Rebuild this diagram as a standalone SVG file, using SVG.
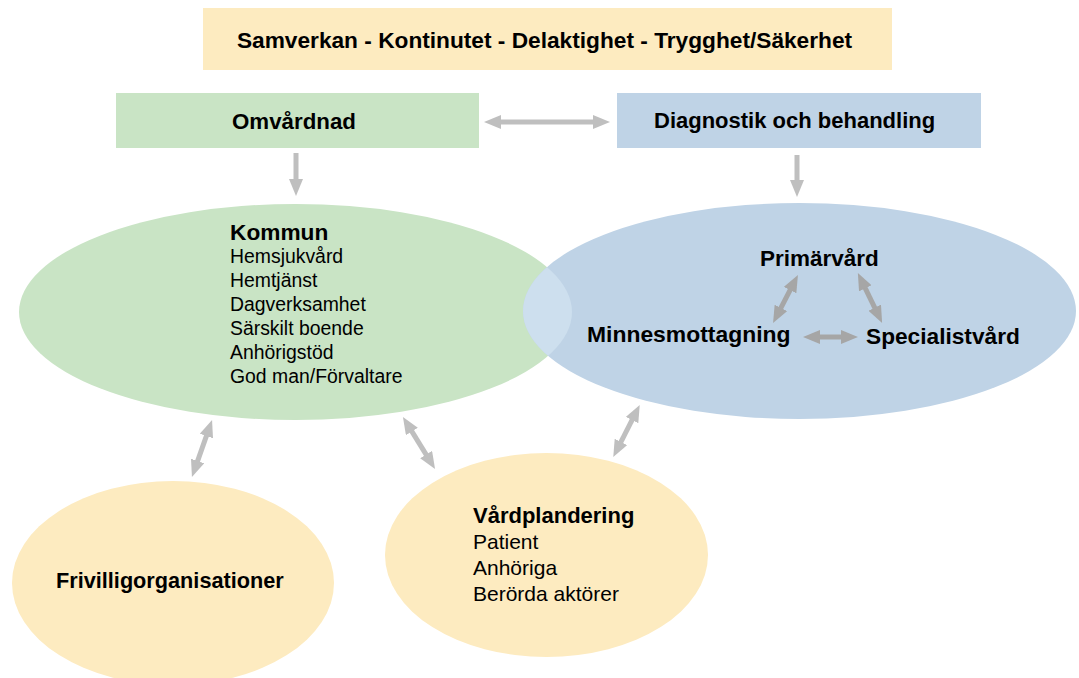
<svg xmlns="http://www.w3.org/2000/svg" width="1079" height="678" viewBox="0 0 1079 678">
<style>
text{font-family:"Liberation Sans",Arial,Helvetica,sans-serif;fill:#000}
.b{font-weight:bold;font-size:22.7px}
.r1{font-size:19.4px}
.r2{font-size:21px}
.c1{stroke:#bfbfbf;stroke-width:5;fill:none}
.c2{stroke:#a6a6a6;stroke-width:5;fill:none}
</style>
<defs>
<marker id="ha" viewBox="0 0 17 14" markerUnits="userSpaceOnUse" markerWidth="17" markerHeight="14" refX="3" refY="7" orient="auto-start-reverse">
<path d="M0,0 L17,7 L0,14 z" fill="#bfbfbf"/>
</marker>
<marker id="hb" viewBox="0 0 17 14" markerUnits="userSpaceOnUse" markerWidth="17" markerHeight="14" refX="3" refY="7" orient="auto-start-reverse">
<path d="M0,0 L17,7 L0,14 z" fill="#a6a6a6"/>
</marker>
<clipPath id="gclip"><ellipse cx="295.5" cy="312" rx="276.5" ry="108"/></clipPath>
</defs>
<rect width="1079" height="678" fill="#fff"/>

<g id="banner">
<rect x="203" y="8" width="689" height="62" fill="#fdebc0"/>
<text class="b" x="544.5" y="48" text-anchor="middle">Samverkan - Kontinutet - Delaktighet - Trygghet/Säkerhet</text>
</g>

<g id="omvardnad">
<rect x="116" y="93" width="363" height="55" fill="#c9e4c5"/>
<text class="b" x="232" y="129" style="font-size:22.3px">Omvårdnad</text>
</g>

<g id="diagnostik">
<rect x="617" y="93" width="364" height="55" fill="#bfd3e6"/>
<text class="b" x="654" y="128" style="font-size:22px">Diagnostik och behandling</text>
</g>

<g id="kommun">
<ellipse cx="295.5" cy="312" rx="276.5" ry="108" fill="#c9e4c5"/>
</g>

<g id="vardniva">
<ellipse cx="799.5" cy="311" rx="276.5" ry="108" fill="#bfd3e6"/>
<ellipse cx="799.5" cy="311" rx="276.5" ry="108" fill="#cddfee" clip-path="url(#gclip)"/>
</g>

<g id="kommun-text">
<text class="b" x="230" y="240">Kommun</text>
<text class="r1" x="230" y="263">Hemsjukvård</text>
<text class="r1" x="230" y="287">Hemtjänst</text>
<text class="r1" x="230" y="311">Dagverksamhet</text>
<text class="r1" x="230" y="335">Särskilt boende</text>
<text class="r1" x="230" y="359">Anhörigstöd</text>
<text class="r1" x="230" y="383">God man/Förvaltare</text>
</g>

<g id="primarvard"><text class="b" x="760" y="266" style="font-size:22.5px">Primärvård</text></g>
<g id="minnesmottagning"><text class="b" x="587" y="342" style="font-size:22.9px">Minnesmottagning</text></g>
<g id="specialistvard"><text class="b" x="866" y="344">Specialistvård</text></g>

<g id="frivillig">
<ellipse cx="173" cy="583" rx="161" ry="102" fill="#fdebc0"/>
<text class="b" x="56" y="588" style="font-size:21.7px">Frivilligorganisationer</text>
</g>

<g id="vardplandering">
<ellipse cx="546.5" cy="555" rx="161.5" ry="102" fill="#fdebc0"/>
<text class="b" x="473" y="523" style="font-size:22px">Vårdplandering</text>
<text class="r2" x="473" y="549">Patient</text>
<text class="r2" x="473" y="575">Anhöriga</text>
<text class="r2" x="473" y="601">Berörda aktörer</text>
</g>

<g id="connectors">
<line class="c1" x1="498" y1="122" x2="596" y2="122" marker-start="url(#ha)" marker-end="url(#ha)"/>
<line class="c1" x1="296" y1="153" x2="296" y2="182" marker-end="url(#ha)"/>
<line class="c1" x1="797" y1="155" x2="797" y2="183" marker-end="url(#ha)"/>
<line class="c1" x1="207.4" y1="433.2" x2="196.6" y2="463.8" marker-start="url(#ha)" marker-end="url(#ha)"/>
<line class="c1" x1="410.3" y1="428.9" x2="427.7" y2="457.1" marker-start="url(#ha)" marker-end="url(#ha)"/>
<line class="c1" x1="633.4" y1="417.4" x2="619.6" y2="444.6" marker-start="url(#ha)" marker-end="url(#ha)"/>
<line class="c2" x1="791.5" y1="287.4" x2="779.5" y2="310.6" marker-start="url(#hb)" marker-end="url(#hb)"/>
<line class="c2" x1="864" y1="285.6" x2="876" y2="310.4" marker-start="url(#hb)" marker-end="url(#hb)"/>
<line class="c2" x1="817" y1="337" x2="844" y2="337" marker-start="url(#hb)" marker-end="url(#hb)"/>
</g>
</svg>
